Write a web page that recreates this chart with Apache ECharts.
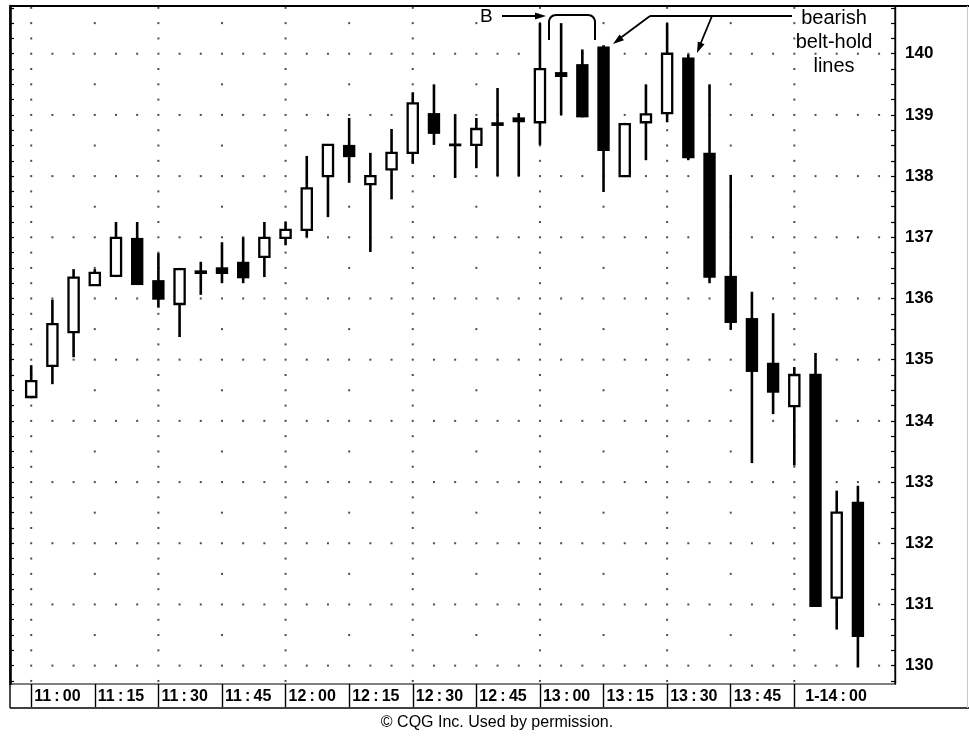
<!DOCTYPE html>
<html>
<head>
<meta charset="utf-8">
<script src="https://cdn.jsdelivr.net/npm/echarts@6/dist/echarts.min.js"></script>
<style>
  html, body { margin: 0; padding: 0; background: #fff; }
  #chart { width: 969px; height: 736px; }
</style>
</head>
<body>
<div id="chart"></div>
<script>
// 5-minute bars, 11:00 to 14:15
const times = [
  '11:00','11:05','11:10','11:15','11:20','11:25','11:30','11:35','11:40','11:45',
  '11:50','11:55','12:00','12:05','12:10','12:15','12:20','12:25','12:30','12:35',
  '12:40','12:45','12:50','12:55','13:00','13:05','13:10','13:15','13:20','13:25',
  '13:30','13:35','13:40','13:45','13:50','13:55','14:00','14:05','14:10','14:15'
];
const openPrices = [
  134.39,134.90,135.45,136.22,136.37,136.99,136.30,135.91,136.46,136.51,
  136.60,136.68,136.99,137.12,138.00,138.51,137.87,138.11,138.38,139.03,
  138.52,138.51,138.88,138.96,138.88,139.70,139.83,140.12,138.00,138.88,
  139.03,139.94,138.38,136.37,135.68,134.95,134.24,134.77,131.11,132.68
];
const closePrices = [
  134.65,135.58,136.34,136.42,136.99,136.22,135.98,136.48,136.40,136.40,
  136.33,136.99,137.12,137.80,138.51,138.31,138.00,138.38,139.19,138.69,
  138.50,138.77,138.82,138.88,139.75,139.62,138.96,138.41,138.85,139.01,
  140.00,138.29,136.34,135.60,134.80,134.46,134.75,130.96,132.50,130.47
];
const highPrices = [
  134.91,135.98,136.48,136.48,137.25,137.25,136.74,136.50,136.60,136.92,
  137.00,137.25,137.25,138.33,138.51,138.95,138.38,138.77,139.37,139.50,
  139.01,138.95,139.44,139.03,140.50,140.50,140.07,140.14,138.87,139.50,
  140.50,139.99,139.50,138.02,136.11,135.76,134.88,135.11,132.86,132.94
];
const lowPrices = [
  134.37,134.60,135.04,136.21,136.35,136.22,135.85,135.37,136.06,136.25,
  136.25,136.35,136.87,137.00,137.33,137.89,136.76,137.62,138.20,138.51,
  137.97,138.13,138.00,138.00,138.51,139.00,138.96,137.74,138.00,138.26,
  138.88,138.26,136.25,135.49,133.31,134.11,133.27,130.96,130.59,129.97
];
// time-axis labels and where they sit
const tickTimes  = ['11:00','11:15','11:30','11:45','12:00','12:15','12:30','12:45','13:00','13:15','13:30','13:45','14:00'];
const tickLabels = ['11:00','11:15','11:30','11:45','12:00','12:15','12:30','12:45','13:00','13:15','13:30','13:45','1-14:00'];
const priceLabels = [130,131,132,133,134,135,136,137,138,139,140];

const FONT = '"Liberation Sans", Arial, Helvetica, sans-serif';
const n = times.length;
const tickIdx = tickTimes.map(t => times.indexOf(t));
const candles = times.map((t, i) => [i, openPrices[i], closePrices[i], lowPrices[i], highPrices[i]]);

// quarter-point ticks along both price borders
const quarterTicks = [];
for (let q = 130 * 4 - 1; q <= 140 * 4 + 3; q++) quarterTicks.push(q / 4);

// dotted grid: rows at whole points (one dot per bar), columns every 15 min
const gridDots = [];
priceLabels.forEach(p => { for (let i = 0; i <= n; i++) gridDots.push([i, p]); });
tickIdx.forEach(i => {
  const dense = (i % 6 === 0);
  quarterTicks.forEach(p => {
    const frac = p - Math.floor(p);
    if (frac === 0) return;
    if (dense || frac === 0.5) gridDots.push([i, p]);
  });
});

function renderCandle(params, api) {
  const i = api.value(0);
  const o = api.value(1), c = api.value(2), l = api.value(3), h = api.value(4);
  const pO = api.coord([i, o]), pC = api.coord([i, c]);
  const pL = api.coord([i, l]), pH = api.coord([i, h]);
  const x = pO[0];
  const w = api.size([1, 0])[0] * 0.48;
  const top = Math.min(pO[1], pC[1]);
  const bot = Math.max(pO[1], pC[1]);
  const up = c > o;
  const children = [{
    type: 'line',
    shape: { x1: x, y1: pH[1], x2: x, y2: pL[1] },
    style: { stroke: '#000', lineWidth: 2.6 }
  }];
  if (up) {
    children.push({
      type: 'rect',
      shape: { x: x - w / 2, y: top, width: w, height: Math.max(bot - top, 2) },
      style: { fill: '#fff', stroke: '#000', lineWidth: 2.3 }
    });
  } else {
    const hgt = Math.max(bot - top, 2.8);
    children.push({
      type: 'rect',
      shape: { x: x - w / 2 - 1.1, y: (top + bot) / 2 - hgt / 2, width: w + 2.2, height: hgt },
      style: { fill: '#000', stroke: null }
    });
  }
  return { type: 'group', children };
}

function arrowHead(tipX, tipY, fromX, fromY, len, half) {
  const dx = tipX - fromX, dy = tipY - fromY;
  const d = Math.sqrt(dx * dx + dy * dy);
  const ux = dx / d, uy = dy / d;
  const bx = tipX - ux * len, by = tipY - uy * len;
  return {
    type: 'polygon',
    shape: { points: [[tipX, tipY], [bx - uy * half, by + ux * half], [bx + uy * half, by - ux * half]] },
    style: { fill: '#000' }, z: 20
  };
}

// bracket with rounded top corners
function bracketPoints(x1, x2, yTop, yBot, r) {
  const pts = [[x1, yBot], [x1, yTop + r]];
  for (let k = 1; k <= 8; k++) {
    const a = Math.PI - (k / 8) * (Math.PI / 2);
    pts.push([x1 + r + r * Math.cos(a), yTop + r - r * Math.sin(a)]);
  }
  pts.push([x2 - r, yTop]);
  for (let k = 1; k <= 8; k++) {
    const a = Math.PI / 2 - (k / 8) * (Math.PI / 2);
    pts.push([x2 - r + r * Math.cos(a), yTop + r - r * Math.sin(a)]);
  }
  pts.push([x2, yBot]);
  return pts;
}

// time labels are set wide, with thin gaps around the colon
const spaced = s => s.replace(':', '\u2009:\u2009');

const chart = echarts.init(document.getElementById('chart'), null, { renderer: 'canvas' });
chart.setOption({
  animation: false,
  backgroundColor: '#fff',
  grid: {
    left: 10, right: 74, top: 6, bottom: 52,
    show: true, borderColor: '#000', borderWidth: 1.2, backgroundColor: 'transparent'
  },
  xAxis: {
    type: 'value', min: -1, max: 40.75,
    axisLine: { show: false, onZero: false },
    splitLine: { show: false },
    axisTick: {
      show: true, customValues: tickIdx, length: 23, inside: false,
      lineStyle: { color: '#000', width: 1.4 }
    },
    axisLabel: {
      customValues: tickIdx,
      formatter: v => {
        const k = tickIdx.indexOf(Math.round(v));
        const s = spaced(tickLabels[k]);
        return k === tickLabels.length - 1 ? '{w|' + s + '}' : s;
      },
      rich: { w: { padding: [0, 0, 0, 8], fontFamily: FONT, fontWeight: 'bold', fontSize: 16, color: '#000' } },
      align: 'left', padding: [0, 0, 0, 3], margin: 5,
      fontFamily: FONT, fontWeight: 'bold', fontSize: 16, color: '#000',
      showMinLabel: true, showMaxLabel: true, hideOverlap: false
    }
  },
  yAxis: [{
    type: 'value', position: 'right', min: 129.7, max: 140.78,
    axisLine: { show: true, onZero: false, lineStyle: { color: '#000', width: 1.4 } },
    splitLine: { show: false },
    axisTick: { show: true, inside: true, length: 4, customValues: quarterTicks, lineStyle: { color: '#000', width: 1.2 } },
    axisLabel: {
      customValues: priceLabels, margin: 10, align: 'left',
      fontFamily: FONT, fontWeight: 'bold', fontSize: 17, color: '#000'
    }
  }, {
    type: 'value', position: 'left', min: 129.7, max: 140.78,
    axisLine: { show: true, onZero: false, lineStyle: { color: '#000', width: 2.6 } },
    splitLine: { show: false },
    axisTick: { show: true, inside: true, length: 4, customValues: quarterTicks, lineStyle: { color: '#000', width: 1.2 } },
    axisLabel: { show: false }
  }],
  series: [{
    type: 'scatter', data: gridDots, symbol: 'rect', symbolSize: 2,
    itemStyle: { color: '#222' }, silent: true, z: 1
  }, {
    type: 'custom', data: candles, renderItem: renderCandle,
    encode: { x: 0, y: [1, 2, 3, 4] }, z: 5, clip: false
  }],
  graphic: [
    // outer frame and time strip
    { type: 'line', shape: { x1: 10, y1: 6, x2: 969, y2: 6 }, style: { stroke: '#000', lineWidth: 2 }, z: 20 },
    { type: 'line', shape: { x1: 10, y1: 708, x2: 969, y2: 708 }, style: { stroke: '#000', lineWidth: 1.4 }, z: 20 },
    { type: 'line', shape: { x1: 10, y1: 684, x2: 10, y2: 708 }, style: { stroke: '#000', lineWidth: 1.4 }, z: 20 },
    { type: 'line', shape: { x1: 967.5, y1: 6, x2: 967.5, y2: 708 }, style: { stroke: '#c8c8c8', lineWidth: 1 }, z: 20 },
    // "B" marker with arrow and bracket
    { type: 'text', x: 480, y: 7, style: { text: 'B', font: '19px ' + FONT, fill: '#000' }, z: 20 },
    { type: 'line', shape: { x1: 502, y1: 16, x2: 537, y2: 16 }, style: { stroke: '#000', lineWidth: 1.8 }, z: 20 },
    arrowHead(546, 16, 502, 16, 11, 3.6),
    { type: 'polyline', shape: { points: bracketPoints(549, 595, 15, 40, 7) },
      style: { stroke: '#000', lineWidth: 2, fill: null }, z: 20 },
    // bearish belt-hold callout
    { type: 'text', x: 834, y: 6, style: { text: 'bearish\nbelt-hold\nlines', font: '20px ' + FONT, fill: '#000', align: 'center', lineHeight: 24 }, z: 20 },
    { type: 'line', shape: { x1: 650, y1: 16, x2: 792, y2: 16 }, style: { stroke: '#000', lineWidth: 2 }, z: 20 },
    { type: 'line', shape: { x1: 650, y1: 16, x2: 619, y2: 39 }, style: { stroke: '#000', lineWidth: 1.8 }, z: 20 },
    arrowHead(613, 44, 650, 16, 11, 3.6),
    { type: 'line', shape: { x1: 712, y1: 16, x2: 700, y2: 45 }, style: { stroke: '#000', lineWidth: 1.8 }, z: 20 },
    arrowHead(697, 53, 712, 16, 11, 3.6),
    // credit line
    { type: 'text', x: 497, y: 715, style: { text: '\u00A9 CQG Inc. Used by permission.', font: '16px ' + FONT, fill: '#000', align: 'center' }, z: 20 }
  ]
});
</script>
</body>
</html>
